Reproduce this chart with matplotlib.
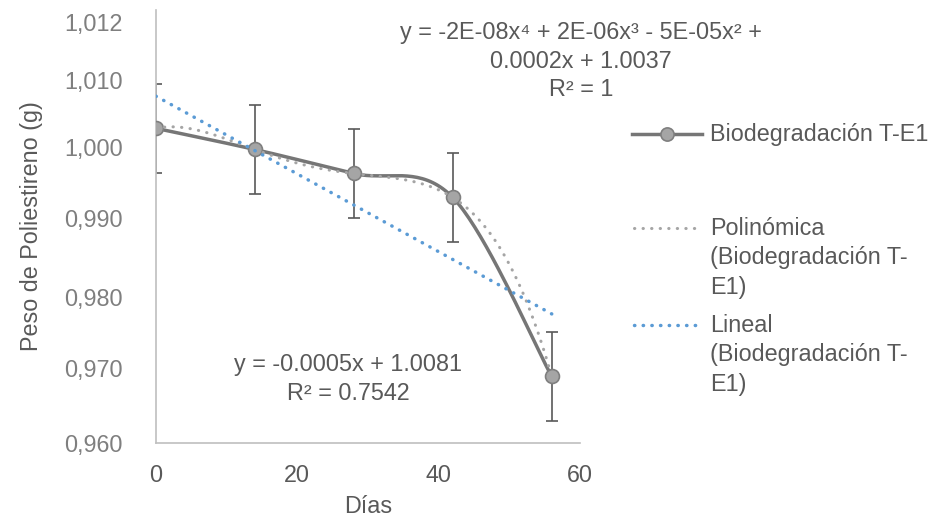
import numpy as np
import matplotlib.pyplot as plt
from matplotlib.lines import Line2D

plt.rcParams['font.family'] = ['Liberation Sans', 'DejaVu Sans']

# %%
# Data

dias = [0, 14, 28, 42, 56]
peso = [1.00391, 1.00117, 0.99806, 0.99495, 0.97175]
error = [0.00573, 0.00573, 0.00573, 0.00573, 0.00573]

xticks = [0, 20, 40, 60]
# the y labels in the source sit at uneven heights
ytick_pos = [0.96313, 0.97285, 0.98205, 0.99229, 1.00149, 1.01017, 1.01769]
ytick_lab = ['0,960', '0,970', '0,980', '0,990', '1,000', '1,010', '1,012']

serie = 'Biodegradación T-E1'
poly_lab = 'Polinómica\n(Biodegradación T-\nE1)'
lin_lab = 'Lineal\n(Biodegradación T-\nE1)'
poly_eq = 'y = -2E-08x⁴ + 2E-06x³ - 5E-05x² +\n0.0002x + 1.0037\nR² = 1'
lin_eq = 'y = -0.0005x + 1.0081\nR² = 0.7542'

# %%
W, H = 941, 524
fs = 16.8
dark = '#595959'
line_c = '#767676'
mark_c = '#A5A5A5'
blue = '#5B9BD5'


def fx(px):
    return px / W


def fy(py):
    return 1 - py / H


fig = plt.figure(figsize=(W / 100, H / 100), dpi=100)
ax = fig.add_axes([fx(156), fy(443), 424 / W, 433 / H])
ax.set_xlim(0, 60)
ax.set_ylim(0.96313, 1.01925)


def excel_smooth(xd, yd, n=40):
    # bezier smoothing done in screen space, like the spreadsheet does
    pts = ax.transData.transform(np.column_stack([xd, yd]))
    p = np.vstack([pts[0], pts, pts[-1]])
    t = np.linspace(0, 1, n)[1:, None]
    out = [pts[:1]]
    for i in range(1, len(p) - 2):
        p0, p1, p2, p3 = p[i - 1], p[i], p[i + 1], p[i + 2]
        c1 = p1 + (p2 - p0) / 6
        c2 = p2 - (p3 - p1) / 6
        seg = ((1 - t) ** 3 * p1 + 3 * (1 - t) ** 2 * t * c1
               + 3 * (1 - t) * t ** 2 * c2 + t ** 3 * p2)
        out.append(seg)
    return ax.transData.inverted().transform(np.vstack(out))


# error bars, smoothed series, markers
ax.errorbar(dias, peso, yerr=error, fmt='none', ecolor=dark, elinewidth=1.2,
            capsize=4.5, capthick=1.2, zorder=2)
sm = excel_smooth(dias, peso)
ax.plot(sm[:, 0], sm[:, 1], color=line_c, lw=2.5, solid_capstyle='round', zorder=3)
ax.plot(dias, peso, 'o', ms=10, mfc=mark_c, mec='#7F7F7F', mew=1.2, zorder=4)

# trend lines
xs = np.linspace(dias[0], dias[-1], 300)
cp = np.polyfit(dias, peso, 4)
cl = np.polyfit(dias, peso, 1)
poly_dots = dict(lw=2.2, ls=(0, (0.1, 2.7)), dash_capstyle='round', zorder=5)
lin_dots = dict(lw=2.5, ls=(0, (0.1, 2.4)), dash_capstyle='round', zorder=5)
ax.plot(xs, np.polyval(cp, xs), color=mark_c, **poly_dots)
ax.plot(xs, np.polyval(cl, xs), color=blue, **lin_dots)

# equations
ax.text(60.1, 1.01264, poly_eq, ha='center', va='center', fontsize=fs,
        color=dark, linespacing=1.3, multialignment='center')
ax.text(27.2, 0.97142, lin_eq, ha='center', va='center', fontsize=fs,
        color=dark, linespacing=1.3, multialignment='center')

# axes styling
for s in ['top', 'right']:
    ax.spines[s].set_visible(False)
for s in ['left', 'bottom']:
    ax.spines[s].set_color('#BFBFBF')
    ax.spines[s].set_linewidth(1.2)
ax.set_xticks(xticks)
ax.set_yticks(ytick_pos)
ax.set_yticklabels(ytick_lab)
ax.tick_params(length=0, labelsize=fs)
ax.tick_params(axis='x', colors=dark, pad=15)
ax.tick_params(axis='y', colors='#7F7F7F', pad=24)
ax.set_xlabel('Días', fontsize=fs, color=dark, labelpad=6)
ax.set_ylabel('Peso de Poliestireno (g)', fontsize=fs, color=dark, labelpad=15)

# legend, laid out like the source (handle beside first line of each entry)
fig.add_artist(Line2D([fx(632), fx(702)], [fy(134), fy(134)], color=line_c,
                      lw=2.5, transform=fig.transFigure))
fig.add_artist(Line2D([fx(667)], [fy(134)], marker='o', ms=9.5, mfc=mark_c,
                      mec='#7F7F7F', mew=1.2, transform=fig.transFigure))
fig.add_artist(Line2D([fx(634), fx(700)], [fy(228), fy(228)], color=mark_c,
                      transform=fig.transFigure, **poly_dots))
fig.add_artist(Line2D([fx(634), fx(700)], [fy(325), fy(325)], color=blue,
                      transform=fig.transFigure, **lin_dots))
fig.text(fx(710), fy(134), serie, ha='left', va='center', fontsize=fs, color=dark)
fig.text(fx(710), fy(217), poly_lab, ha='left', va='top', fontsize=fs,
         color=dark, linespacing=1.36)
fig.text(fx(710), fy(314), lin_lab, ha='left', va='top', fontsize=fs,
         color=dark, linespacing=1.36)

fig.savefig('out.png', dpi=100)
